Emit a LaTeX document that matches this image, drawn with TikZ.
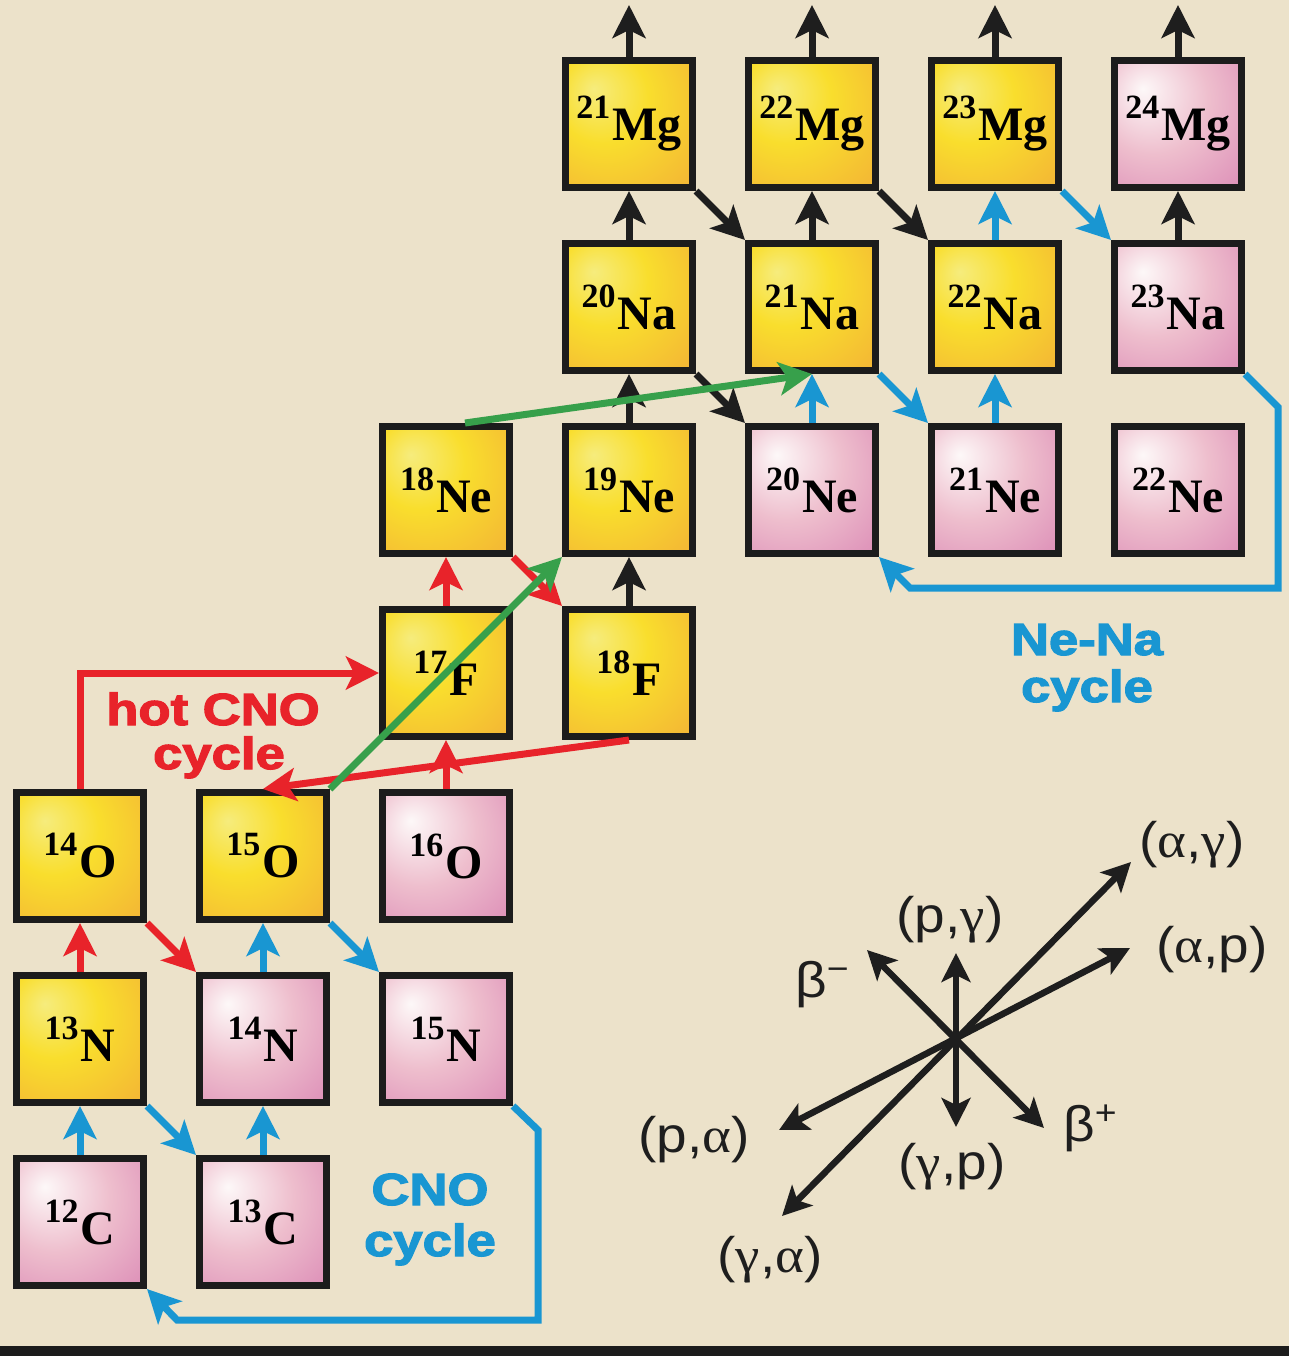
\documentclass[tikz,border=0pt]{standalone}
\usepackage{fontspec}
\usepackage{graphicx}
\setmainfont{Liberation Serif}
\newfontfamily\heavyfont{Liberation Sans Bold}[FakeBold=2.5]
\newfontfamily\legfont{Liberation Sans}
\newfontfamily\grkfont{Liberation Serif}
\usetikzlibrary{arrows.meta}
\definecolor{bgcol}{RGB}{236,226,202}
\definecolor{boxline}{RGB}{28,28,28}
\definecolor{cred}{RGB}{232,35,42}
\definecolor{cblue}{RGB}{25,150,210}
\definecolor{cgreen}{RGB}{55,160,75}
\definecolor{cblack}{RGB}{30,30,30}
\definecolor{yA}{RGB}{246,236,125}
\definecolor{yB}{RGB}{249,222,45}
\definecolor{yC}{RGB}{244,186,52}
\definecolor{yD}{RGB}{230,145,90}
\definecolor{pA}{RGB}{253,248,248}
\definecolor{pB}{RGB}{238,190,205}
\definecolor{pC}{RGB}{218,135,180}
\definecolor{pD}{RGB}{180,80,150}
\pgfdeclareradialshading{yelsh}{\pgfpoint{-14bp}{14bp}}{color(0bp)=(yA); color(18bp)=(yB); color(40bp)=(yC); color(72bp)=(yD)}
\pgfdeclareradialshading{pinksh}{\pgfpoint{-14bp}{14bp}}{color(0bp)=(pA); color(22bp)=(pB); color(48bp)=(pC); color(78bp)=(pD)}
\newcommand{\iso}[2]{{\fontsize{48}{48}\selectfont\bfseries\raisebox{22pt}{\fontsize{34}{34}\selectfont #1}\kern2pt #2}}
\newcommand{\hvy}[1]{\scalebox{1.17}[1]{\fontsize{45}{45}\selectfont\heavyfont #1}}
\newcommand{\leg}[1]{\scalebox{1.1}[1]{\fontsize{50}{50}\selectfont\legfont #1}}
\newcommand{\galpha}{{\grkfont α}}
\newcommand{\ggamma}{{\grkfont γ}}
\tikzset{
  isobox/.style={shape=rectangle, draw=boxline, line width=7pt, minimum size=127pt, inner sep=0pt},
  yelbox/.style={isobox, shade, shading=yelsh},
  pinkbox/.style={isobox, shade, shading=pinksh},
  arr/.style={line width=7pt, line join=miter, -{Stealth[length=33pt,width=33pt,inset=8pt]}},
  redarr/.style={arr, draw=cred},
  bluarr/.style={arr, draw=cblue},
  grnarr/.style={arr, draw=cgreen},
  blkarr/.style={arr, draw=cblack},
  legarr/.style={line width=6.5pt, draw=cblack, {Stealth[length=29pt,width=29pt,inset=7pt]}-{Stealth[length=29pt,width=29pt,inset=7pt]}},
  leglbl/.style={inner sep=0pt, text=cblack},
  cyclbl/.style={inner sep=0pt, anchor=base}
}
\begin{document}
\begin{tikzpicture}[x=1pt,y=-1pt]
\useasboundingbox (0,0) rectangle (1289,1356);
\fill[bgcol] (0,0) rectangle (1289,1356);
\fill[boxline] (0,1346) rectangle (1289,1356);

% isotope boxes (columns 80+183c, rows 1222-183r)
\node[pinkbox] (C12) at (80,1222) {\iso{12}{C}};
\node[pinkbox] (C13) at (263,1222) {\iso{13}{C}};
\node[yelbox]  (N13) at (80,1039) {\iso{13}{N}};
\node[pinkbox] (N14) at (263,1039) {\iso{14}{N}};
\node[pinkbox] (N15) at (446,1039) {\iso{15}{N}};
\node[yelbox]  (O14) at (80,856) {\iso{14}{O}};
\node[yelbox]  (O15) at (263,856) {\iso{15}{O}};
\node[pinkbox] (O16) at (446,856) {\iso{16}{O}};
\node[yelbox]  (F17) at (446,673) {\iso{17}{F}};
\node[yelbox]  (F18) at (629,673) {\iso{18}{F}};
\node[yelbox]  (Ne18) at (446,490) {\iso{18}{Ne}};
\node[yelbox]  (Ne19) at (629,490) {\iso{19}{Ne}};
\node[pinkbox] (Ne20) at (812,490) {\iso{20}{Ne}};
\node[pinkbox] (Ne21) at (995,490) {\iso{21}{Ne}};
\node[pinkbox] (Ne22) at (1178,490) {\iso{22}{Ne}};
\node[yelbox]  (Na20) at (629,307) {\iso{20}{Na}};
\node[yelbox]  (Na21) at (812,307) {\iso{21}{Na}};
\node[yelbox]  (Na22) at (995,307) {\iso{22}{Na}};
\node[pinkbox] (Na23) at (1178,307) {\iso{23}{Na}};
\node[yelbox]  (Mg21) at (629,124) {\iso{21}{Mg}};
\node[yelbox]  (Mg22) at (812,124) {\iso{22}{Mg}};
\node[yelbox]  (Mg23) at (995,124) {\iso{23}{Mg}};
\node[pinkbox] (Mg24) at (1178,124) {\iso{24}{Mg}};

% CNO cycle (blue)
\draw[bluarr] (C12.north) -- (N13.south);
\draw[bluarr] (N13.south east) -- (C13.north west);
\draw[bluarr] (C13.north) -- (N14.south);
\draw[bluarr] (N14.north) -- (O15.south);
\draw[bluarr] (O15.south east) -- (N15.north west);
\coordinate (cl1) at (538,1130);
\coordinate (cl2) at (538,1320);
\coordinate (cl3) at (177,1320);
\draw[bluarr] (N15.south east) -- (cl1) -- (cl2) -- (cl3) -- (C12.south east);

% hot CNO (red)
\draw[redarr] (N13.north) -- (O14.south);
\draw[redarr] (O14.south east) -- (N14.north west);
\draw[redarr] (O14.north) |- (F17.west);
\draw[redarr] (O16.north) -- (F17.south);
\draw[redarr] (F17.north) -- (Ne18.south);
\draw[redarr] (Ne18.south east) -- (F18.north west);
\draw[redarr] (F18.south) -- (O15.north);

% black
\draw[blkarr] (F18.north) -- (Ne19.south);
\draw[blkarr] (Ne19.north) -- (Na20.south);
\draw[blkarr] (Na20.north) -- (Mg21.south);
\draw[blkarr] (Na20.south east) -- (Ne20.north west);
\draw[blkarr] (Mg21.south east) -- (Na21.north west);
\draw[blkarr] (Na21.north) -- (Mg22.south);
\draw[blkarr] (Mg22.south east) -- (Na22.north west);
\draw[blkarr] (Na23.north) -- (Mg24.south);
\coordinate (up21) at (629,5);
\coordinate (up22) at (812,5);
\coordinate (up23) at (995,5);
\coordinate (up24) at (1178,5);
\draw[blkarr] (Mg21.north) -- (up21);
\draw[blkarr] (Mg22.north) -- (up22);
\draw[blkarr] (Mg23.north) -- (up23);
\draw[blkarr] (Mg24.north) -- (up24);

% Ne-Na cycle (blue)
\draw[bluarr] (Ne20.north) -- (Na21.south);
\draw[bluarr] (Na21.south east) -- (Ne21.north west);
\draw[bluarr] (Ne21.north) -- (Na22.south);
\draw[bluarr] (Na22.north) -- (Mg23.south);
\draw[bluarr] (Mg23.south east) -- (Na23.north west);
\coordinate (nl1) at (1278,407);
\coordinate (nl2) at (1278,588);
\coordinate (nl3) at (910,588);
\draw[bluarr] (Na23.south east) -- (nl1) -- (nl2) -- (nl3) -- (Ne20.south east);

% breakout (green)
\draw[grnarr] (O15.north east) -- (Ne19.south west);
\draw[grnarr] ([xshift=19pt]Ne18.north) -- (Na21.south);

% cycle labels
\node[cyclbl, text=cred] (hot1) at (213,725) {\hvy{hot CNO}};
\node[cyclbl, text=cred] (hot2) at (219,769) {\hvy{cycle}};
\node[cyclbl, text=cblue] (cno1) at (430,1205) {\hvy{CNO}};
\node[cyclbl, text=cblue] (cno2) at (430,1256) {\hvy{cycle}};
\node[cyclbl, text=cblue] (nena1) at (1087,655) {\hvy{Ne-Na}};
\node[cyclbl, text=cblue] (nena2) at (1087,702) {\hvy{cycle}};

% legend
\coordinate (lA1) at (1131,862);
\coordinate (lA2) at (782,1216);
\coordinate (lB1) at (1130,948);
\coordinate (lB2) at (779,1130);
\coordinate (lV1) at (956,953);
\coordinate (lV2) at (956,1127);
\coordinate (lD1) at (867,950);
\coordinate (lD2) at (1044,1128);
\draw[legarr] (lA2) -- (lA1);
\draw[legarr] (lB2) -- (lB1);
\draw[legarr] (lV2) -- (lV1);
\draw[legarr] (lD1) -- (lD2);
\node[leglbl] (tag) at (1192,845) {\leg{(\galpha,\ggamma)}};
\node[leglbl] (tpg) at (950,920) {\leg{(p,\ggamma)}};
\node[leglbl] (tap) at (1212,950) {\leg{(\galpha,p)}};
\node[leglbl] (tbm) at (822,985) {\leg{β\raisebox{17pt}{\fontsize{34}{34}\selectfont −}}};
\node[leglbl] (tpa) at (694,1140) {\leg{(p,\galpha)}};
\node[leglbl] (tgp) at (952,1167) {\leg{(\ggamma,p)}};
\node[leglbl] (tbp) at (1090,1128) {\leg{β\raisebox{17pt}{\fontsize{34}{34}\selectfont +}}};
\node[leglbl] (tga) at (770,1260) {\leg{(\ggamma,\galpha)}};
\end{tikzpicture}
\end{document}
